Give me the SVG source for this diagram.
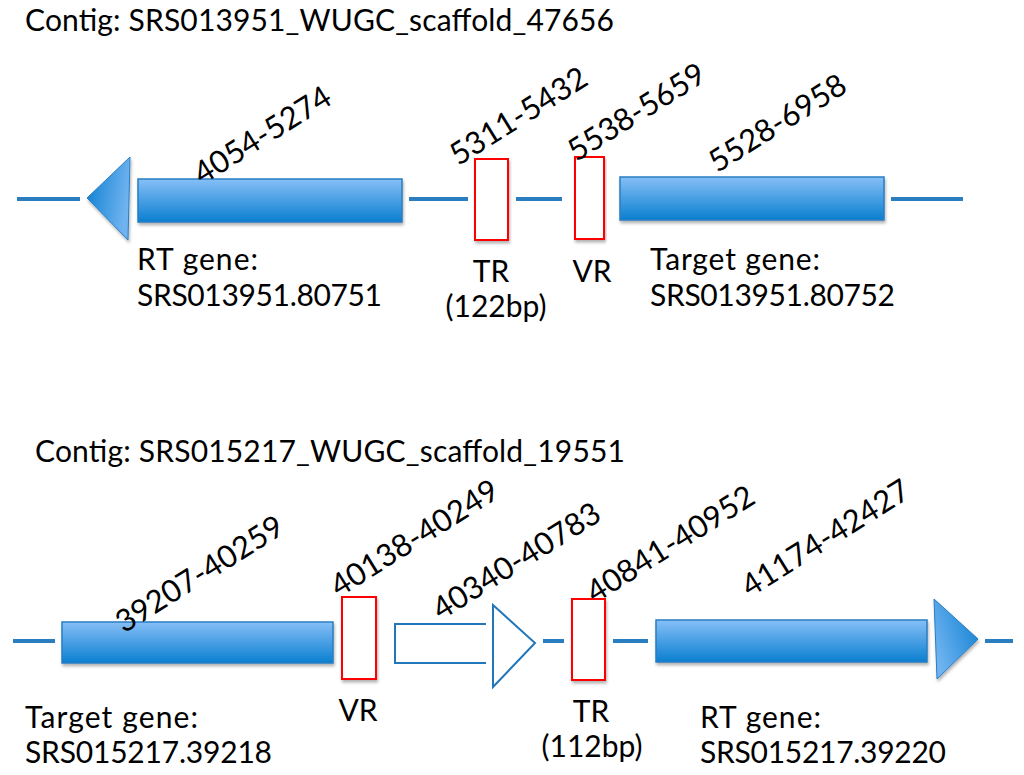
<svg xmlns="http://www.w3.org/2000/svg" width="1024" height="775" viewBox="0 0 1024 775">
<style>
text { font-family: Lato, "Open Sans", "Liberation Sans", sans-serif; font-size: 30px; fill: #000; }
.mid { text-anchor: middle; }
.rot { text-anchor: middle; font-size: 31px; }
.bb { stroke: #2A7DBF; stroke-width: 4; fill: none; }
.gene { fill: url(#gv); stroke: #2A7DC2; stroke-width: 1.5; filter: url(#sh); }
.head { stroke: #2A7DC2; stroke-width: 1; filter: url(#sh); }
.rep { fill: #fff; stroke: #FF0000; stroke-width: 2; filter: url(#sh); }
.open { fill: #fff; stroke: #2277BB; stroke-width: 2; }
</style>
<defs>
<linearGradient id="gv" x1="0" y1="0" x2="0" y2="1">
<stop offset="0" stop-color="#86BFF7"/>
<stop offset="1" stop-color="#0A7FD0"/>
</linearGradient>
<linearGradient id="gl" x1="0" y1="0" x2="1" y2="0.3">
<stop offset="0" stop-color="#0A7ED0"/>
<stop offset="1" stop-color="#6FB3F0"/>
</linearGradient>
<linearGradient id="gr" x1="1" y1="0" x2="0" y2="0.6">
<stop offset="0" stop-color="#0A7ED0"/>
<stop offset="1" stop-color="#6FB3F0"/>
</linearGradient>
<filter id="sh" x="-10%" y="-20%" width="120%" height="160%">
<feDropShadow dx="1" dy="2.5" stdDeviation="1.5" flood-color="#000" flood-opacity="0.3"/>
</filter>
</defs>
<rect width="1024" height="775" fill="#fff"/>

<g id="connectors">
<line class="bb" x1="17" y1="199" x2="80" y2="199"/>
<line class="bb" x1="409" y1="199" x2="468" y2="199"/>
<line class="bb" x1="516" y1="199" x2="562" y2="199"/>
<line class="bb" x1="891" y1="199" x2="963" y2="199"/>
<line class="bb" x1="13" y1="641" x2="55" y2="641"/>
<line class="bb" x1="543" y1="641" x2="564" y2="641"/>
<line class="bb" x1="613" y1="641" x2="648" y2="641"/>
<line class="bb" x1="985" y1="641" x2="1013" y2="641"/>
</g>

<g id="title1"><text x="25" y="31" textLength="589">Contig: SRS013951_WUGC_scaffold_47656</text></g>

<g id="rt-gene-1">
<polygon class="head" fill="url(#gl)" points="87,198 130,157 128,240"/>
<rect class="gene" x="138" y="179" width="264" height="43"/>
<text class="rot" transform="translate(268,144) rotate(-32)">4054-5274</text>
<text x="137" y="270" textLength="121">RT gene:</text>
<text x="137" y="306" textLength="245">SRS013951.80751</text>
</g>

<g id="tr-1">
<rect class="rep" x="475" y="159" width="33" height="81"/>
<text class="rot" transform="translate(524,125) rotate(-32)">5311-5432</text>
<text class="mid" x="491" y="282">TR</text>
<text class="mid" x="496" y="317">(122bp)</text>
</g>

<g id="vr-1">
<rect class="rep" x="575" y="157" width="29" height="82"/>
<text class="rot" transform="translate(642,121) rotate(-32)">5538-5659</text>
<text class="mid" x="592" y="282">VR</text>
</g>

<g id="target-gene-1">
<rect class="gene" x="620" y="177" width="264" height="43"/>
<text class="rot" transform="translate(783,132) rotate(-32)">5528-6958</text>
<text x="650" y="270" textLength="170">Target gene:</text>
<text x="650" y="306" textLength="245">SRS013951.80752</text>
</g>

<g id="title2"><text x="35" y="462" textLength="590">Contig: SRS015217_WUGC_scaffold_19551</text></g>

<g id="target-gene-2">
<rect class="gene" x="62" y="622" width="271" height="41"/>
<text class="rot" transform="translate(205,583) rotate(-32)">39207-40259</text>
<text x="25" y="728" textLength="173">Target gene:</text>
<text x="25" y="763" textLength="247">SRS015217.39218</text>
</g>

<g id="vr-2">
<rect class="rep" x="342" y="597" width="34" height="82"/>
<text class="rot" transform="translate(420,547) rotate(-32)">40138-40249</text>
<text class="mid" x="358" y="721">VR</text>
</g>

<g id="orf-2">
<path class="open" d="M486,624 H395 V663 H486"/>
<polygon class="open" points="493,605 535,643 493,687"/>
<text class="rot" transform="translate(522,570) rotate(-32)">40340-40783</text>
</g>

<g id="tr-2">
<rect class="rep" x="572" y="599" width="33" height="81"/>
<text class="rot" transform="translate(676,553) rotate(-32)">40841-40952</text>
<text class="mid" x="591" y="722">TR</text>
<text class="mid" x="592" y="757">(112bp)</text>
</g>

<g id="rt-gene-2">
<rect class="gene" x="656" y="620" width="271" height="42"/>
<polygon class="head" fill="url(#gr)" points="934,599 978,639 937,679"/>
<text class="rot" transform="translate(831,547) rotate(-32)">41174-42427</text>
<text x="700" y="728" textLength="121">RT gene:</text>
<text x="700" y="763" textLength="246">SRS015217.39220</text>
</g>
</svg>
